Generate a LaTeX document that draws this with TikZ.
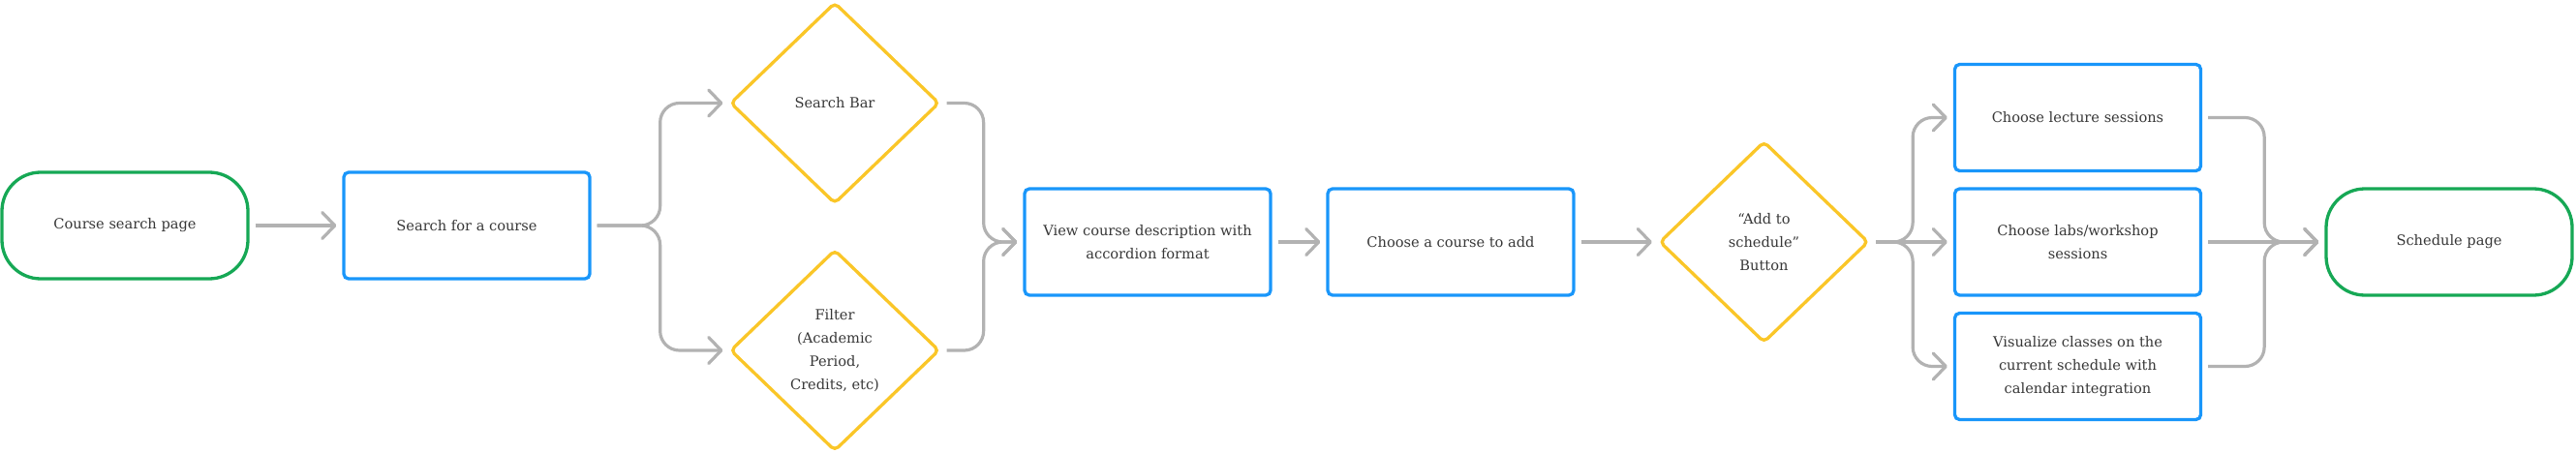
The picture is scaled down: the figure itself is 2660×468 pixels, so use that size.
\documentclass[tikz,border=0pt]{standalone}
\usepackage{fontspec}
\setmainfont{DejaVu Serif}
\usetikzlibrary{shapes.geometric,arrows.meta}
\definecolor{cgreen}{RGB}{22,168,85}
\definecolor{cblue}{RGB}{25,150,250}
\definecolor{cyellow}{RGB}{250,198,40}
\definecolor{cgray}{RGB}{178,178,178}
\definecolor{ctext}{RGB}{55,55,55}
\begin{document}
\begin{tikzpicture}[x=1pt,y=-1pt,
  every node/.style={font=\fontsize{14.6}{24}\selectfont, text=ctext, align=center},
  pill/.style={draw=cgreen, line width=3.3pt, rounded corners=40pt, minimum width=254pt, minimum height=110pt, inner sep=0pt},
  box/.style={draw=cblue, line width=3.3pt, rounded corners=5pt, minimum width=254pt, minimum height=110pt, inner sep=0pt},
  dia/.style={draw=cyellow, line width=3.3pt, diamond, rounded corners=5pt, minimum width=216pt, minimum height=208pt, inner sep=0pt},
  conn/.style={draw=cgray, line width=3.2pt, rounded corners=20pt, shorten <=6pt, shorten >=6pt, -{Straight Barb[length=13pt,width=27pt,round]}}
]
\useasboundingbox (0,0) rectangle (2660,468);

\node[pill] (course) at (129,233) {Course search page};
\node[box] (search) at (482,233) {Search for a course};
\node[dia] (sb) at (862,106.5) {Search Bar};
\node[dia] (filter) at (862,362) {Filter\\(Academic\\Period,\\Credits, etc)};
\node[box] (view) at (1185,250) {View course description with\\accordion format};
\node[box] (choose) at (1498,250) {Choose a course to add};
\node[dia] (add) at (1821.5,250) {“Add to\\schedule”\\Button};
\node[box] (lec) at (2145.5,121.5) {Choose lecture sessions};
\node[box] (labs) at (2145.5,250) {Choose labs/workshop\\sessions};
\node[box] (vis) at (2145.5,378.5) {Visualize classes on the\\current schedule with\\calendar integration};
\node[pill] (sched) at (2529,250) {Schedule page};

\draw[conn] (course) -- (search);
\draw[conn] (search.east) -- ++(71,0) |- (sb.west);
\draw[conn] (search.east) -- ++(71,0) |- (filter.west);
\draw[conn] (sb.east) -- ++(44,0) |- (view.west);
\draw[conn] (filter.east) -- ++(44,0) |- (view.west);
\draw[conn] (view) -- (choose);
\draw[conn] (choose) -- (add);
\draw[conn] (add.east) -- ++(44,0) |- (lec.west);
\draw[conn] (add) -- (labs);
\draw[conn] (add.east) -- ++(44,0) |- (vis.west);
\draw[conn] (lec.east) -- ++(64,0) |- (sched.west);
\draw[conn] (labs) -- (sched);
\draw[conn] (vis.east) -- ++(64,0) |- (sched.west);
\end{tikzpicture}
\end{document}
